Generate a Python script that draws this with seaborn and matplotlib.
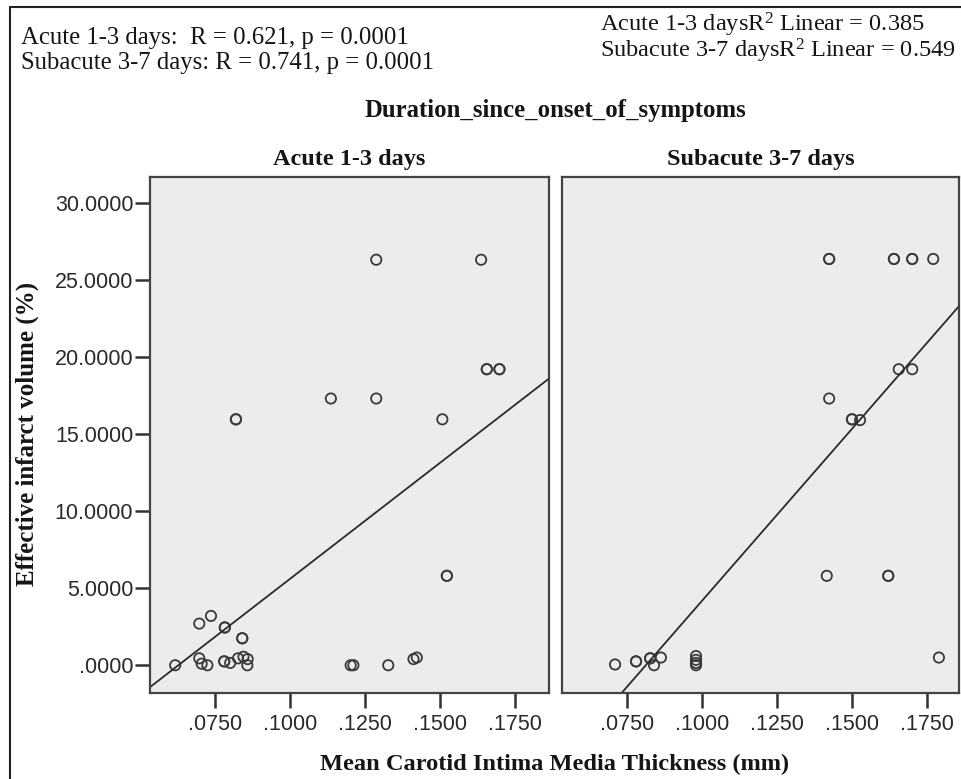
import numpy as np
import pandas as pd
import matplotlib
matplotlib.use("Agg")
import matplotlib.pyplot as plt
from matplotlib.lines import Line2D
import seaborn as sns

# ---------------- data ----------------
acute_x = [0.1288, 0.1637, 0.1656, 0.1656, 0.1698, 0.1698, 0.1137, 0.1288, 0.0821, 0.0821,
           0.1508, 0.1523, 0.1523, 0.0619, 0.0699, 0.0738, 0.0784, 0.0784, 0.0842, 0.0842,
           0.0699, 0.0707, 0.0726, 0.0782, 0.0782, 0.0802, 0.0828, 0.0846, 0.0860, 0.0859,
           0.1203, 0.1212, 0.1328, 0.1412, 0.1423]
acute_y = [26.3, 26.3, 19.2, 19.2, 19.2, 19.2, 17.3, 17.3, 15.95, 15.95,
           15.95, 5.8, 5.8, 0.0, 2.7, 3.2, 2.45, 2.45, 1.75, 1.75,
           0.45, 0.1, 0.0, 0.25, 0.25, 0.15, 0.45, 0.55, 0.4, 0.0,
           0.0, 0.0, 0.0, 0.4, 0.5]

subacute_x = [0.1423, 0.1423, 0.1639, 0.1639, 0.1700, 0.1700, 0.1770, 0.1655, 0.1700, 0.1423,
              0.1499, 0.1499, 0.1526, 0.1415, 0.1620, 0.1620, 0.1789, 0.0709, 0.0779, 0.0779,
              0.0826, 0.0826, 0.0839, 0.0862, 0.0979, 0.0979, 0.0979, 0.0979]
subacute_y = [26.35, 26.35, 26.35, 26.35, 26.35, 26.35, 26.35, 19.2, 19.2, 17.3,
              15.95, 15.95, 15.9, 5.8, 5.8, 5.8, 0.5, 0.05, 0.25, 0.25,
              0.45, 0.45, 0.0, 0.5, 0.6, 0.35, 0.15, 0.0]

groups = ["Acute 1-3 days", "Subacute 3-7 days"]
xticks = [0.075, 0.100, 0.125, 0.150, 0.175]
xtick_labels = [".0750", ".1000", ".1250", ".1500", ".1750"]
yticks = [0, 5, 10, 15, 20, 25, 30]
ytick_labels = [".0000", "5.0000", "10.0000", "15.0000", "20.0000", "25.0000", "30.0000"]
stats_lines = ["Acute 1-3 days:  R = 0.621, p = 0.0001",
               "Subacute 3-7 days: R = 0.741, p = 0.0001"]
r2_lines = [r"Acute 1-3 daysR$^{\mathsf{2}}$ Linear = 0.385",
            r"Subacute 3-7 daysR$^{\mathsf{2}}$ Linear = 0.549"]

df = pd.concat([
    pd.DataFrame({"x": acute_x, "y": acute_y, "group": groups[0]}),
    pd.DataFrame({"x": subacute_x, "y": subacute_y, "group": groups[1]}),
], ignore_index=True)

# ---------------- style ----------------
sns.set_style("white")
plt.rcParams["font.family"] = ["Liberation Serif", "DejaVu Serif"]
plt.rcParams["mathtext.fontset"] = "custom"
plt.rcParams["mathtext.rm"] = "Liberation Serif"
plt.rcParams["mathtext.sf"] = "Liberation Serif"
plt.rcParams["mathtext.default"] = "regular"

W, H = 961, 779
fig = plt.figure(figsize=(W / 100, H / 100), dpi=100)
fig.patch.set_facecolor("white")


def fx(px):
    return px / W


def fy(py):
    return 1 - py / H


panel_top, panel_bot = 177.4, 693.0
ax1 = fig.add_axes([fx(150), fy(panel_bot), (549.3 - 150) / W, (panel_bot - panel_top) / H])
ax2 = fig.add_axes([fx(561.7), fy(panel_bot), (959 - 561.7) / W, (panel_bot - panel_top) / H])
xlims = [(0.0535, 0.1864), (0.0531, 0.1856)]
ylim = (-1.8, 31.64)

edge = "#3a3a3a"
txt = "#151515"
for ax, g, xl in zip([ax1, ax2], groups, xlims):
    ax.set_facecolor("#ececec")
    ax.set_xlim(*xl)
    ax.set_ylim(*ylim)
    sub = df[df["group"] == g]
    sns.regplot(data=sub, x="x", y="y", ax=ax, scatter=False, ci=None,
                truncate=False, line_kws={"color": "#2a2a2a", "lw": 1.3})
    sns.scatterplot(data=sub, x="x", y="y", ax=ax, marker="o", s=55,
                    facecolor="none", edgecolor=edge, linewidth=1.3, legend=False)
    ax.set_xlim(*xl)
    ax.set_ylim(*ylim)
    for sp in ax.spines.values():
        sp.set_visible(True)
        sp.set_color("#444444")
        sp.set_linewidth(1.6)
    ax.set_xticks(xticks)
    ax.set_xticklabels(xtick_labels, fontfamily="Liberation Sans", fontsize=15.5, color="#2a2a2a")
    ax.tick_params(axis="x", direction="out", length=11, width=1.8, color="#333333",
                   pad=4, bottom=True)
    ax.set_xlabel("")
    ax.set_ylabel("")
    ax.set_title(g, fontsize=17.5, fontweight="bold", pad=9, color=txt)

ax1.set_yticks(yticks)
ax1.set_yticklabels(ytick_labels, fontfamily="Liberation Sans", fontsize=15.5, color="#2a2a2a")
ax1.tick_params(axis="y", direction="out", length=11, width=1.8, color="#333333", pad=1, left=True)
ax2.set_yticks(yticks)
ax2.tick_params(axis="y", left=False, labelleft=False)

# axis labels
fig.text(fx(27), fy(434), "Effective infarct volume (%)", rotation=90, ha="center", va="center",
         fontsize=18, fontweight="bold", color=txt)
fig.text(fx(554.5), fy(764), "Mean Carotid Intima Media Thickness (mm)", ha="center", va="center",
         fontsize=17.6, fontweight="bold", color=txt)
fig.text(fx(555), fy(111), "Duration_since_onset_of_symptoms", ha="center", va="center",
         fontsize=17.8, fontweight="bold", color=txt)

# annotations (two-line blocks)
fig.text(fx(21), fy(50.5), "\n".join(stats_lines), ha="left", va="center", fontsize=17.8,
         color=txt, linespacing=1.16)
fig.text(fx(600), fy(38), "\n".join(r2_lines), ha="left", va="center", fontsize=17.6,
         color=txt, linespacing=0.92)

# outer frame (left & top)
fig.add_artist(Line2D([fx(10), fx(10)], [fy(7), 0], transform=fig.transFigure, color="#222222", lw=1.5))
fig.add_artist(Line2D([fx(10), 1], [fy(7), fy(7)], transform=fig.transFigure, color="#222222", lw=1.5))

fig.savefig("out.png", dpi=100, facecolor="white")
